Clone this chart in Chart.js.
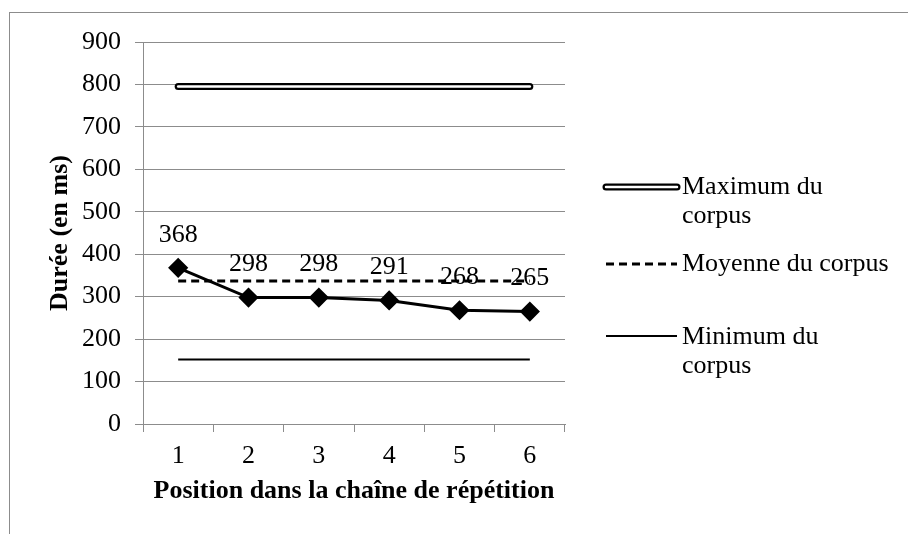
<!DOCTYPE html>
<html>
<head>
<meta charset="utf-8">
<script src="https://cdn.jsdelivr.net/npm/chart.js@4.4.0/dist/chart.umd.min.js"></script>
<style>
  html, body { margin: 0; padding: 0; background: #fff; }
  canvas { display: block; }
</style>
</head>
<body>
<canvas id="chart" width="908" height="534"></canvas>
<script>
// values
const positions = ['1', '2', '3', '4', '5', '6'];
const dureeRepetition = [368, 298, 298, 291, 268, 265];
const maximumCorpus = [795, 795, 795, 795, 795, 795];
const moyenneCorpus = [337, 337, 337, 337, 337, 337];
const minimumCorpus = [152, 152, 152, 152, 152, 152];
const yMin = 0, yMax = 900, yStep = 100;

const serif = "'Liberation Serif', 'Times New Roman', serif";
const gridGray = '#8c8c8c';
const fontSize = 26;

// white background + gray frame
const framePlugin = {
    id: 'frame',
    beforeDraw(chart) {
        const c = chart.ctx;
        c.save();
        c.fillStyle = '#fff';
        c.fillRect(0, 0, chart.width, chart.height);
        c.strokeStyle = '#8c8c8c';
        c.lineWidth = 1;
        c.strokeRect(9.5, 12.5, 1000, 700);
        c.restore();
    }
};

// value labels above the diamonds
const valueLabels = {
    id: 'valueLabels',
    afterDatasetsDraw(chart) {
        const meta = chart.getDatasetMeta(4);
        const c = chart.ctx;
        c.save();
        c.font = fontSize + 'px ' + serif;
        c.fillStyle = '#000';
        c.textAlign = 'center';
        c.textBaseline = 'middle';
        meta.data.forEach((pt, i) => {
            c.fillText(String(dureeRepetition[i]), pt.x, pt.y - 33);
        });
        c.restore();
    }
};

// legend on the right, text wraps like the original
const sideLegend = {
    id: 'sideLegend',
    afterDraw(chart) {
        const c = chart.ctx;
        const x0 = 606, x1 = 677, tx = 682;
        c.save();
        c.font = fontSize + 'px ' + serif;
        c.fillStyle = '#000';
        c.textAlign = 'left';
        c.textBaseline = 'middle';

        // Maximum (double line)
        let y = 187;
        c.lineCap = 'round';
        c.strokeStyle = '#000';
        c.lineWidth = 7;
        c.beginPath(); c.moveTo(x0, y); c.lineTo(x1, y); c.stroke();
        c.strokeStyle = '#fff';
        c.lineWidth = 2.5;
        c.beginPath(); c.moveTo(x0, y); c.lineTo(x1, y); c.stroke();
        c.fillText('Maximum du', tx, 187);
        c.fillText('corpus', tx, 216);

        // Moyenne (dashed)
        y = 264;
        c.lineCap = 'butt';
        c.strokeStyle = '#000';
        c.lineWidth = 3;
        c.setLineDash([8, 5]);
        c.beginPath(); c.moveTo(x0, y); c.lineTo(x1, y); c.stroke();
        c.setLineDash([]);
        c.fillText('Moyenne du corpus', tx, 264);

        // Minimum (solid)
        y = 336;
        c.lineWidth = 2;
        c.beginPath(); c.moveTo(x0, y); c.lineTo(x1, y); c.stroke();
        c.fillText('Minimum du', tx, 337);
        c.fillText('corpus', tx, 366);
        c.restore();
    }
};

const flat = { pointRadius: 0, pointHoverRadius: 0, tension: 0, fill: false };

new Chart(document.getElementById('chart'), {
    type: 'line',
    data: {
        labels: positions,
        datasets: [
            { label: 'Maximum du corpus', data: maximumCorpus, borderColor: '#000', borderWidth: 7, borderCapStyle: 'round', order: 2, ...flat },
            { label: 'Maximum du corpus (centre)', data: maximumCorpus, borderColor: '#fff', borderWidth: 2.5, borderCapStyle: 'round', order: 1, ...flat },
            { label: 'Moyenne du corpus', data: moyenneCorpus, borderColor: '#000', borderWidth: 3, borderDash: [8, 5], order: 3, ...flat },
            { label: 'Minimum du corpus', data: minimumCorpus, borderColor: '#000', borderWidth: 2, order: 4, ...flat },
            {
                label: 'Durée', data: dureeRepetition, borderColor: '#000', borderWidth: 3,
                backgroundColor: '#000', pointStyle: 'rectRot', pointRadius: 8,
                pointBackgroundColor: '#000', pointBorderColor: '#000', tension: 0, fill: false, order: 0
            }
        ]
    },
    options: {
        responsive: false,
        animation: false,
        events: [],
        layout: { padding: { top: 42, right: 343, bottom: 0, left: 0 } },
        plugins: { legend: { display: false }, tooltip: { enabled: false } },
        scales: {
            x: {
                offset: true,
                grid: { offset: true, drawOnChartArea: false, drawTicks: true, tickLength: 8, color: gridGray },
                border: { color: gridGray },
                ticks: { color: '#000', font: { family: serif, size: fontSize }, padding: 9 },
                title: {
                    display: true, text: 'Position dans la chaîne de répétition', color: '#000',
                    font: { family: serif, size: fontSize, weight: 'bold' }, padding: { top: 0, bottom: 27 }
                },
                afterFit(scale) { scale.height = 110; }
            },
            y: {
                min: yMin, max: yMax,
                grid: { color: gridGray, tickLength: 8 },
                border: { color: gridGray },
                ticks: { stepSize: yStep, color: '#000', font: { family: serif, size: fontSize }, padding: 14 },
                title: {
                    display: true, text: 'Durée (en ms)', color: '#000',
                    font: { family: serif, size: fontSize, weight: 'bold' }, padding: { top: 45, bottom: 0 }
                },
                afterFit(scale) { scale.width = 143; }
            }
        }
    },
    plugins: [framePlugin, valueLabels, sideLegend]
});
</script>
</body>
</html>
